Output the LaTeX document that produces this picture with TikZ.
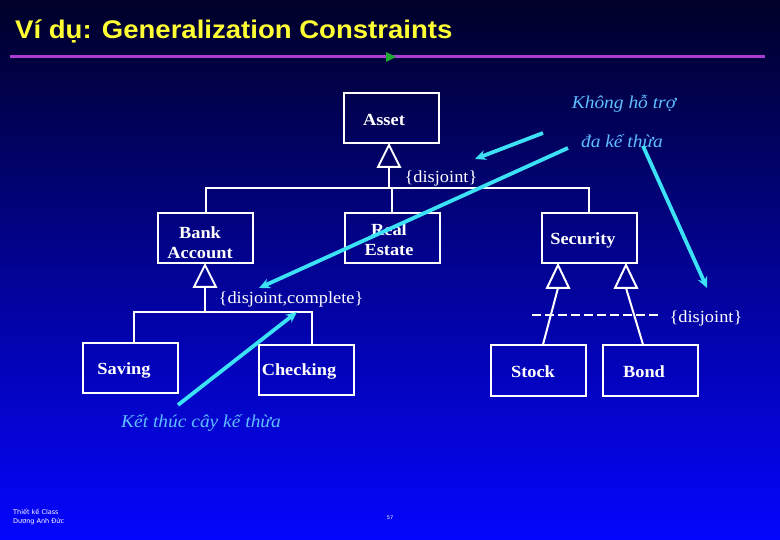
\documentclass[tikz,border=0pt]{standalone}
\usepackage{fontspec}
\setmainfont{Liberation Serif}[FakeStretch=1.08]
\newfontfamily\titlefont{Liberation Sans}[FakeStretch=1.08]
\newfontfamily\footfont{DejaVu Sans}
\usetikzlibrary{arrows.meta}
\definecolor{bgtop}{RGB}{0,0,40}
\definecolor{bgbot}{RGB}{5,5,255}
\definecolor{titleyellow}{RGB}{255,255,51}
\definecolor{rulepurple}{RGB}{170,60,210}
\definecolor{rulegreen}{RGB}{30,170,50}
\definecolor{notecyan}{RGB}{95,190,255}
\definecolor{arrowcyan}{RGB}{60,225,245}
\tikzset{
  box/.style={draw=white, line width=2pt, minimum width=95pt, minimum height=50pt, inner sep=0pt},
  boxtxt/.style={font=\fontsize{17}{20}\selectfont\bfseries, text=white, align=center, inner sep=0pt},
  gen/.style={draw=white, line width=2pt},
  tri/.style={draw=white, line width=2pt, line join=miter},
  cons/.style={font=\fontsize{17}{20}\selectfont, text=white, inner sep=0pt},
  note/.style={font=\fontsize{18}{20}\selectfont\itshape, text=notecyan, inner sep=0pt},
  cyanarrow/.style={draw=arrowcyan, line width=3.8pt, -{Stealth[length=11pt,width=10pt]}},
  foot/.style={font=\footfont\fontsize{6.5}{8.5}\selectfont, text=white, inner sep=0pt, align=left}
}
\begin{document}
\begin{tikzpicture}[x=1pt,y=-1pt]
\useasboundingbox (0,0) rectangle (780,540);
\shade[top color=bgtop, bottom color=bgbot] (0,0) rectangle (780,540);

% title
\node[anchor=base west, inner sep=0pt, text=titleyellow, font=\titlefont\bfseries\fontsize{25.5}{30}\selectfont] (title) at (15,39) {Ví dụ: Generalization Constraints};
\coordinate (rl) at (10,57);
\coordinate (rr) at (765,57);
\draw[rulepurple, line width=3pt] (rl) -- (rr);
\fill[rulegreen] (386,52) -- (396,57) -- (386,62) -- cycle;

% boxes
\node[box] (asset) at (391,118) {};
\node[boxtxt] (assetT) at (384,120) {Asset};
\node[box] (bank) at (205.5,238) {};
\node[boxtxt] (bankT) at (200,243) {Bank\\Account};
\node[box] (real) at (392,238) {};
\node[boxtxt] (realT) at (389,240) {Real\\Estate};
\node[box] (security) at (589,238.5) {};
\node[boxtxt] (securityT) at (583,240) {Security};
\node[box] (saving) at (130.5,368) {};
\node[boxtxt] (savingT) at (124,370) {Saving};
\node[box] (checking) at (306.5,370) {};
\node[boxtxt] (checkingT) at (299,371) {Checking};
\node[box] (stock) at (538.5,370.5) {};
\node[boxtxt] (stockT) at (533,372) {Stock};
\node[box] (bond) at (650.5,370.5) {};
\node[boxtxt] (bondT) at (644,372) {Bond};

% generalization: Asset
\draw[tri] (389,145) -- (378,167) -- (400,167) -- cycle;
\coordinate (tAb) at (389,167);
\coordinate (j1) at (389,188);
\draw[gen] (tAb) -- (j1);
\draw[gen] (bank.north) -- (bank.north |- j1) -- (security.north |- j1) -- (security.north);
\draw[gen] (real.north) -- (real.north |- j1);

% generalization: Bank Account
\draw[tri] (205,265) -- (194,287) -- (216,287) -- cycle;
\coordinate (tBb) at (205,287);
\coordinate (j2) at (205,312);
\draw[gen] (tBb) -- (j2);
\draw[gen] ([xshift=3.5pt]saving.north) |- (j2) -| ([xshift=5.5pt]checking.north);

% generalization: Security
\draw[tri] (558,265) -- (547,288) -- (569,288) -- cycle;
\draw[tri] (626,265) -- (615,288) -- (637,288) -- cycle;
\coordinate (tS1) at (558,288);
\coordinate (tS2) at (626,288);
\draw[gen] (tS1) -- ([xshift=4.5pt]stock.north);
\draw[gen] (tS2) -- ([xshift=-7.5pt]bond.north);
\coordinate (dl1) at (532,315);
\coordinate (dl2) at (660,315);
\draw[gen, dash pattern=on 9pt off 4pt] (dl1) -- (dl2);

% constraints
\node[cons] (c1) at (441,178) {\{disjoint\}};
\node[cons] (c2) at (291,299) {\{disjoint,complete\}};
\node[cons] (c3) at (706,318) {\{disjoint\}};

% notes
\node[note] (n1) at (624,104) {Không hỗ trợ};
\node[note] (n2) at (622,141) {đa kế thừa};
\node[note] (n3) at (201,423) {Kết thúc cây kế thừa};

% cyan arrows
\coordinate (a1s) at (543,133);
\coordinate (a1e) at (475,159);
\coordinate (a2s) at (568,148);
\coordinate (a2e) at (259,288);
\coordinate (a3s) at (643,146);
\coordinate (a3e) at (707,288);
\coordinate (a4s) at (178,405);
\coordinate (a4e) at (297,312);
\draw[cyanarrow] (a1s) -- (a1e);
\draw[cyanarrow] (a2s) -- (a2e);
\draw[cyanarrow] (a3s) -- (a3e);
\draw[cyanarrow] (a4s) -- (a4e);

% footer
\node[foot, anchor=north west] (f1) at (13,509) {Thiết kế Class\\Dương Anh Đức};
\node[foot, font=\footfont\fontsize{5}{6}\selectfont] (pg) at (390,518) {57};
\end{tikzpicture}
\end{document}
